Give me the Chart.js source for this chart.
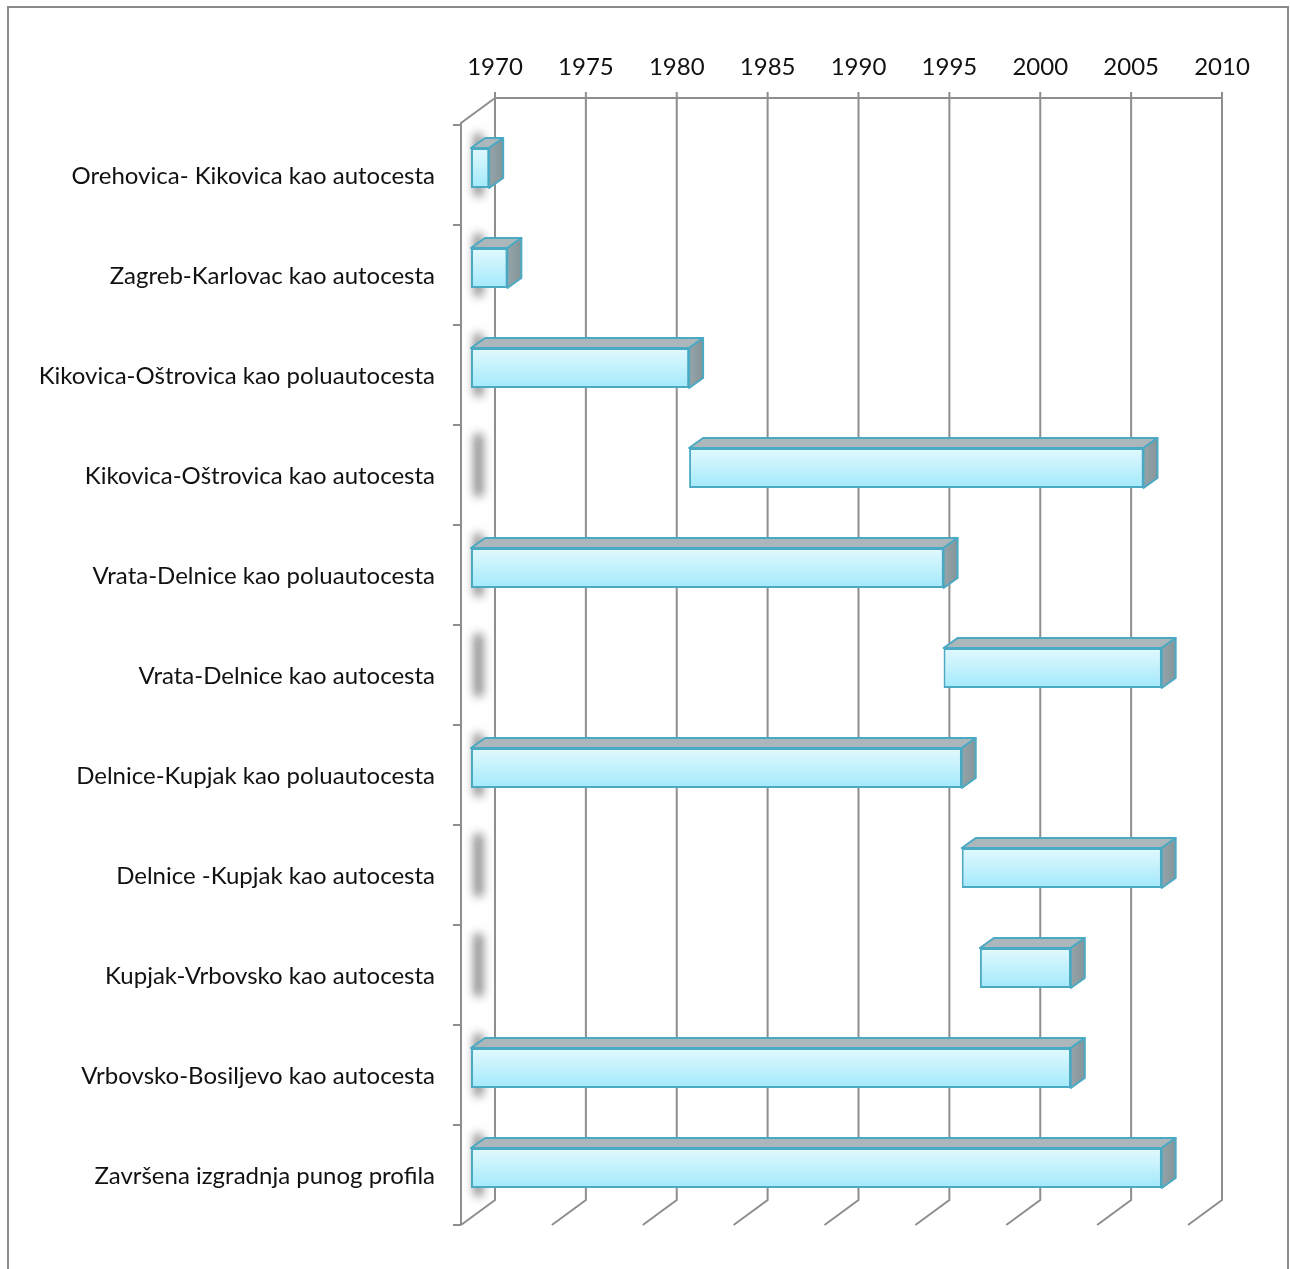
<!DOCTYPE html>
<html>
<head>
<meta charset="utf-8">
<script src="https://cdn.jsdelivr.net/npm/chart.js@4.4.1/dist/chart.umd.min.js"></script>
<style>
  html, body { margin: 0; padding: 0; background: #fff; }
  #wrap { width: 1290px; height: 1269px; position: relative; }
</style>
</head>
<body>
<div id="wrap"><canvas id="chart"></canvas></div>
<script>
const CATEGORIES = [
    'Orehovica- Kikovica kao autocesta',
    'Zagreb-Karlovac kao autocesta',
    'Kikovica-Oštrovica kao poluautocesta',
    'Kikovica-Oštrovica kao autocesta',
    'Vrata-Delnice kao poluautocesta',
    'Vrata-Delnice kao autocesta',
    'Delnice-Kupjak kao poluautocesta',
    'Delnice -Kupjak kao autocesta',
    'Kupjak-Vrbovsko kao autocesta',
    'Vrbovsko-Bosiljevo kao autocesta',
    'Završena izgradnja punog profila'
];
const START_YEARS = [1970, 1970, 1970, 1982, 1970, 1996, 1970, 1997, 1998, 1970, 1970];
const END_YEARS   = [1971, 1972, 1982, 2007, 1996, 2008, 1997, 2008, 2003, 2003, 2008];
const YEAR_TICKS  = [1970, 1975, 1980, 1985, 1990, 1995, 2000, 2005, 2010];

const YEAR_MIN = YEAR_TICKS[0];
const YEAR_MAX = YEAR_TICKS[YEAR_TICKS.length - 1];

// 3D look: bars sit in front of the back wall, shifted left/down
const BAR_SHIFT_PX  = 24;                 // bar front plane vs back wall
const WALL_DEPTH    = { dx: -34, dy: 25 }; // back wall -> front edge
const BAR_DEPTH     = { dx: 14, dy: -10 }; // bar front -> bar back
const PLOT_WIDTH    = 727;
const BAR_SHIFT_YRS = BAR_SHIFT_PX / PLOT_WIDTH * (YEAR_MAX - YEAR_MIN);

const GRID_COLOR   = '#8e8e8e';
const EDGE_COLOR   = '#4aa9c3';
const FONT_FAMILY  = 'Lato, "Open Sans", sans-serif';

const rangeData = START_YEARS.map((s, i) => [s, END_YEARS[i]]);

function frontGradient(ctx) {
    const chart = ctx.chart;
    const y = chart.scales.y;
    if (!y || ctx.dataIndex === undefined) return '#c8f3fd';
    const c = y.getPixelForValue(ctx.dataIndex);
    const half = Math.abs(y.getPixelForValue(1) - y.getPixelForValue(0)) * 0.4 / 2;
    if (!isFinite(c) || !isFinite(half)) return '#c8f3fd';
    const g = chart.ctx.createLinearGradient(0, c - half, 0, c + half);
    g.addColorStop(0, '#e2f9fe');
    g.addColorStop(1, '#a2e9fb');
    return g;
}

const wall3d = {
    id: 'wall3d',
    beforeDatasetsDraw(chart) {
        const { ctx, chartArea: ca } = chart;
        const x2 = chart.scales.x2;
        const y = chart.scales.y;
        const backTop = ca.top - 20;
        const backBottom = ca.bottom - 18;
        const left = x2.getPixelForValue(YEAR_MIN);
        const right = x2.getPixelForValue(YEAR_MAX);

        ctx.save();
        // outer frame
        ctx.strokeStyle = '#8a8a8a';
        ctx.lineWidth = 2;
        ctx.strokeRect(8, 7, 1280, 1300);

        ctx.strokeStyle = GRID_COLOR;
        ctx.lineWidth = 2;
        ctx.beginPath();
        // back wall top edge
        ctx.moveTo(left, backTop);
        ctx.lineTo(right, backTop);
        // vertical gridlines, tick marks and floor diagonals
        YEAR_TICKS.forEach((v) => {
            const px = x2.getPixelForValue(v);
            ctx.moveTo(px, backTop - 6);
            ctx.lineTo(px, backBottom);
            ctx.lineTo(px + WALL_DEPTH.dx, backBottom + WALL_DEPTH.dy);
        });
        // left wall
        ctx.moveTo(left, backTop);
        ctx.lineTo(left + WALL_DEPTH.dx, backTop + WALL_DEPTH.dy);
        ctx.lineTo(left + WALL_DEPTH.dx, backBottom + WALL_DEPTH.dy);
        // left wall ticks at category boundaries
        const step = Math.abs(y.getPixelForValue(1) - y.getPixelForValue(0));
        const wx = left + WALL_DEPTH.dx;
        for (let i = 0; i <= CATEGORIES.length; i++) {
            const ty = y.getPixelForValue(0) - step / 2 + i * step + 7;
            ctx.moveTo(wx - 8, ty);
            ctx.lineTo(wx, ty);
        }
        ctx.stroke();

        // soft shadows of the bars on the left wall
        ctx.filter = 'blur(5px)';
        ctx.fillStyle = 'rgba(100,100,100,0.8)';
        CATEGORIES.forEach((_, i) => {
            const c = y.getPixelForValue(i);
            ctx.fillRect(wx + 13, c - 34, 9, 62);
        });
        ctx.filter = 'none';
        ctx.restore();
    },
    afterDatasetsDraw(chart) {
        const { ctx } = chart;
        const meta = chart.getDatasetMeta(0);
        ctx.save();
        ctx.lineWidth = 2;
        ctx.strokeStyle = EDGE_COLOR;
        ctx.lineJoin = 'round';
        meta.data.forEach((el) => {
            const l = Math.min(el.x, el.base);
            const r = Math.max(el.x, el.base);
            const t = el.y - el.height / 2;
            const b = el.y + el.height / 2;
            const { dx, dy } = BAR_DEPTH;

            ctx.beginPath();
            ctx.moveTo(l, t);
            ctx.lineTo(l + dx, t + dy);
            ctx.lineTo(r + dx, t + dy);
            ctx.lineTo(r, t);
            ctx.closePath();
            ctx.fillStyle = '#abb7ba';
            ctx.fill();
            ctx.stroke();

            const g = ctx.createLinearGradient(r, 0, r + dx, 0);
            g.addColorStop(0, '#95a4a8');
            g.addColorStop(1, '#84959a');
            ctx.beginPath();
            ctx.moveTo(r, t);
            ctx.lineTo(r + dx, t + dy);
            ctx.lineTo(r + dx, b + dy);
            ctx.lineTo(r, b);
            ctx.closePath();
            ctx.fillStyle = g;
            ctx.fill();
            ctx.stroke();
        });
        ctx.restore();
    }
};

new Chart(document.getElementById('chart'), {
    type: 'bar',
    data: {
        labels: CATEGORIES,
        datasets: [{
            data: rangeData,
            xAxisID: 'x',
            yAxisID: 'y',
            backgroundColor: frontGradient,
            borderColor: EDGE_COLOR,
            borderWidth: 2,
            borderSkipped: false,
            categoryPercentage: 1,
            barPercentage: 0.4,
            clip: false
        }]
    },
    options: {
        indexAxis: 'y',
        responsive: true,
        maintainAspectRatio: false,
        animation: false,
        layout: { padding: { left: 0, right: 68, top: 0, bottom: 51 } },
        plugins: {
            legend: { display: false },
            tooltip: { enabled: false }
        },
        scales: {
            x: {
                type: 'linear',
                display: false,
                min: YEAR_MIN + BAR_SHIFT_YRS,
                max: YEAR_MAX + BAR_SHIFT_YRS
            },
            x2: {
                type: 'linear',
                position: 'top',
                min: YEAR_MIN,
                max: YEAR_MAX,
                afterBuildTicks: (s) => { s.ticks = YEAR_TICKS.map((v) => ({ value: v })); },
                afterFit: (s) => { s.height = 118; },
                grid: { display: false, drawTicks: false },
                border: { display: false },
                ticks: {
                    padding: 36,
                    color: '#111',
                    font: { family: FONT_FAMILY, size: 24 },
                    maxRotation: 0,
                    callback: (v) => String(v)
                }
            },
            y: {
                type: 'category',
                afterFit: (s) => {
                    s.width = 495;
                    s.paddingTop = 0;
                    s.paddingBottom = 0;
                },
                grid: { display: false, drawTicks: false },
                border: { display: false },
                ticks: {
                    padding: 60,
                    labelOffset: 8,
                    color: '#111',
                    font: { family: FONT_FAMILY, size: 24 }
                }
            }
        }
    },
    plugins: [wall3d]
});
</script>
</body>
</html>
